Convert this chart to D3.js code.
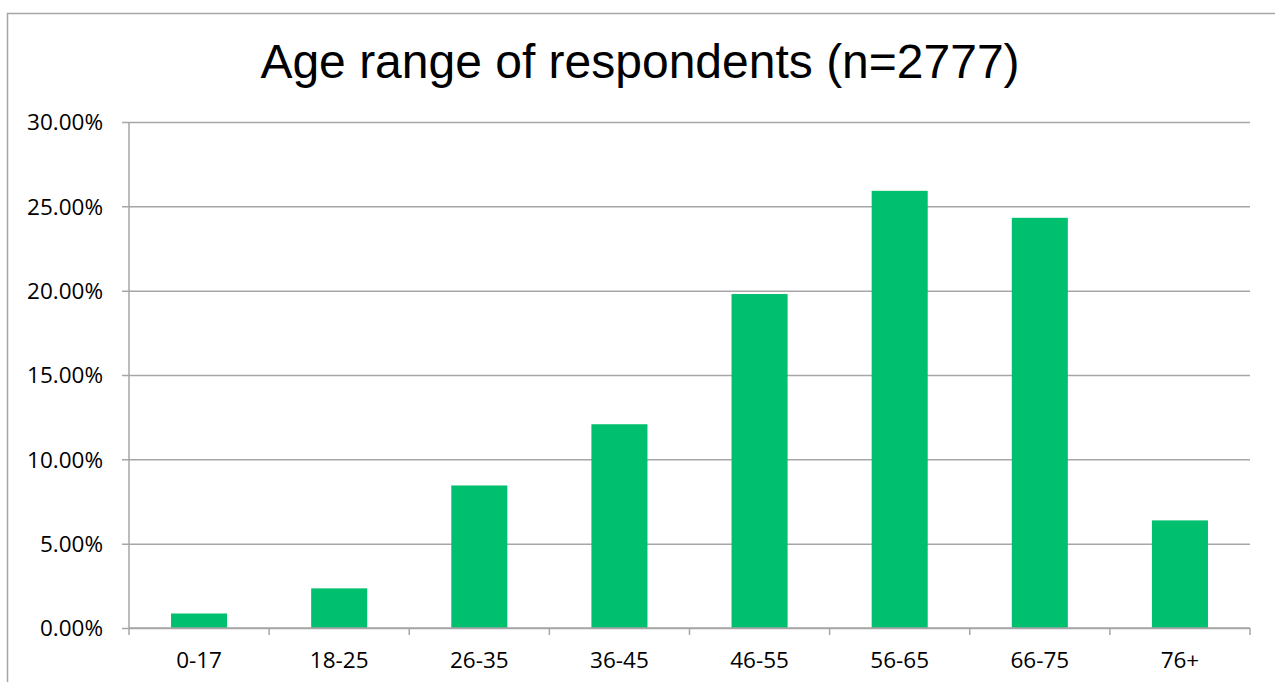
<!DOCTYPE html>
<html>
<head>
<meta charset="utf-8">
<script src="https://cdn.jsdelivr.net/npm/d3@7"></script>
<style>
  body { margin: 0; background: #fff; }
  svg { display: block; }
</style>
</head>
<body>
<svg id="chart" width="1275" height="682"></svg>
<script>
// age groups and share of respondents (percent)
const ageGroups = ["0-17", "18-25", "26-35", "36-45", "46-55", "56-65", "66-75", "76+"]
const sharePct = [0.86, 2.35, 8.45, 12.08, 19.8, 25.92, 24.32, 6.38]
const yTicks = [0, 5, 10, 15, 20, 25, 30]

const svg = d3.select("#chart"),
  margin = {top: 122, right: 25, bottom: 54, left: 129},
  width = +svg.attr("width") - margin.left - margin.right,
  height = +svg.attr("height") - margin.top - margin.bottom

// outer chart frame (only top and left edges are visible in the picture)
svg.append("path")
  .attr("d", "M7.5,682 V13.5 H1275")
  .attr("fill", "none")
  .attr("stroke", "#a6a6a6")
  .attr("stroke-width", 1.5)

svg.append("text")
  .attr("x", 640)
  .attr("y", 78)
  .attr("text-anchor", "middle")
  .style("font-family", "'Liberation Sans', Arial, sans-serif")
  .style("font-size", "48px")
  .text("Age range of respondents (n=2777)")

const g = svg.append("g").attr("transform", `translate(${margin.left},${margin.top})`)

const x = d3.scaleBand().domain(ageGroups).range([0, width]).paddingInner(0.6).paddingOuter(0.3)
const y = d3.scaleLinear().domain([0, 30]).range([height, 0])

// y axis with gridlines
const yAxis = d3.axisLeft(y).tickValues(yTicks).tickSize(-width).tickSizeOuter(0)
  .tickFormat(d => d.toFixed(2) + "%")
g.append("g")
  .attr("id", "y_axis")
  .call(yAxis)
  .call(s => s.select(".domain").remove())
  .call(s => s.selectAll(".tick line").attr("x1", -7).attr("stroke", "#a6a6a6").attr("stroke-width", 1.5))
  .call(s => s.selectAll(".tick text").attr("x", -26).attr("dy", "0.35em")
    .style("font-family", "'Open Sans', sans-serif").style("font-size", "22.5px").attr("fill", "#000"))

g.append("line")
  .attr("x1", 0).attr("x2", 0).attr("y1", 0).attr("y2", height)
  .attr("stroke", "#a6a6a6").attr("stroke-width", 1.5)

// bars
g.selectAll("rect.bar")
  .data(sharePct)
  .enter()
  .append("rect")
  .attr("class", "bar")
  .attr("x", (d, i) => x(ageGroups[i]))
  .attr("y", d => y(d))
  .attr("width", x.bandwidth())
  .attr("height", d => height - y(d))
  .attr("fill", "#00bf6f")

// x axis: ticks sit on the category boundaries
const step = x.step()
const xAxisG = g.append("g").attr("id", "x_axis").attr("transform", `translate(0,${height})`)
xAxisG.append("line")
  .attr("x1", 0).attr("x2", width)
  .attr("stroke", "#a6a6a6").attr("stroke-width", 1.5)
xAxisG.selectAll("line.tick")
  .data(d3.range(ageGroups.length + 1))
  .enter()
  .append("line")
  .attr("class", "tick")
  .attr("x1", i => i * step).attr("x2", i => i * step)
  .attr("y1", 0).attr("y2", 7)
  .attr("stroke", "#a6a6a6").attr("stroke-width", 1.5)
xAxisG.selectAll("text")
  .data(ageGroups)
  .enter()
  .append("text")
  .attr("x", d => x(d) + x.bandwidth() / 2)
  .attr("y", 40)
  .attr("text-anchor", "middle")
  .style("font-family", "'Open Sans', sans-serif")
  .style("font-size", "22.5px")
  .text(d => d)
</script>
</body>
</html>
